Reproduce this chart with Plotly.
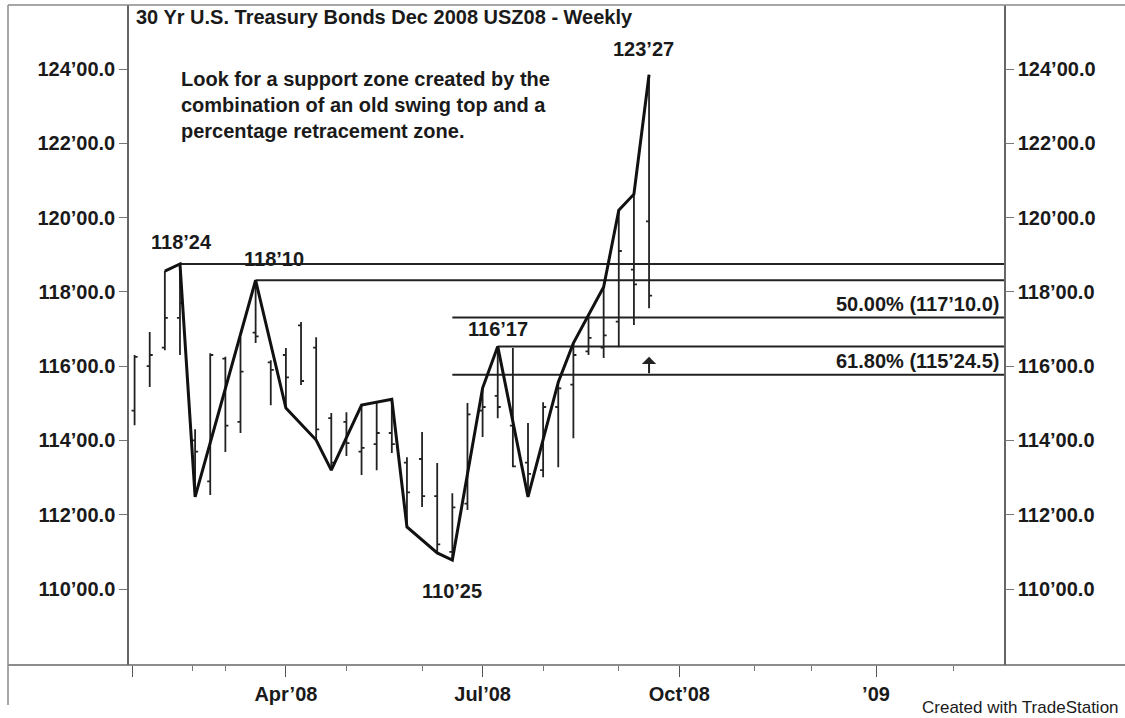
import plotly.graph_objects as go

# ---------------- data ----------------
dates = ["2008-01-25", "2008-02-01", "2008-02-08", "2008-02-15", "2008-02-22", "2008-02-29",
         "2008-03-07", "2008-03-14", "2008-03-21", "2008-03-28", "2008-04-04", "2008-04-11",
         "2008-04-18", "2008-04-25", "2008-05-02", "2008-05-09", "2008-05-16", "2008-05-23",
         "2008-05-30", "2008-06-06", "2008-06-13", "2008-06-20", "2008-06-27", "2008-07-04",
         "2008-07-11", "2008-07-18", "2008-07-25", "2008-08-01", "2008-08-08", "2008-08-15",
         "2008-08-22", "2008-08-29", "2008-09-05", "2008-09-12", "2008-09-19"]
highs = [116.30, 116.92, 118.56, 118.75, 114.30, 116.35, 116.25, 116.78, 118.3125, 116.16,
         116.49, 117.19, 116.78, 114.74, 114.76, 114.95, 115.01, 115.11, 113.55, 114.23,
         113.39, 112.58, 115.01, 115.41, 116.53125, 116.49, 114.47, 115.03, 115.57, 116.62,
         117.32, 118.13, 120.20, 120.63, 123.84375]
lows = [114.41, 115.44, 116.43, 116.30, 112.48, 112.53, 113.69, 114.20, 116.62, 114.95,
        114.87, 115.49, 114.01, 113.20, 113.58, 113.07, 113.20, 113.66, 111.67, 112.21,
        110.97, 110.78125, 112.13, 114.09, 114.60, 113.28, 112.48, 113.01, 113.28, 114.06,
        116.30, 116.22, 116.51, 117.11, 117.56]
opens = [114.80, 116.00, 116.50, 117.30, 114.00, 112.90, 116.20, 114.50, 116.90, 116.10,
         116.30, 117.10, 116.50, 114.60, 114.50, 113.70, 113.90, 114.20, 113.40, 113.50,
         112.50, 111.00, 112.30, 114.80, 115.20, 114.40, 113.40, 113.20, 114.90, 115.50,
         116.40, 116.50, 117.20, 118.60, 119.90]
closes = [116.25, 116.30, 117.30, 117.70, 113.70, 116.30, 114.40, 115.85, 116.80, 115.90,
          115.70, 115.60, 114.30, 113.40, 113.93, 113.80, 114.20, 113.90, 112.60, 112.50,
          111.20, 112.20, 114.70, 114.90, 114.90, 113.30, 113.10, 114.90, 115.40, 116.30,
          116.76, 116.83, 119.10, 118.20, 117.90]

swing_dates = ["2008-02-08", "2008-02-15", "2008-02-22", "2008-03-21", "2008-04-04", "2008-04-18",
               "2008-04-25", "2008-05-09", "2008-05-23", "2008-05-30", "2008-06-13", "2008-06-20",
               "2008-07-04", "2008-07-11", "2008-07-25", "2008-08-08", "2008-08-15", "2008-08-29",
               "2008-09-05", "2008-09-12", "2008-09-19"]
swing_prices = [118.56, 118.75, 112.48, 118.3125, 114.87, 114.01, 113.20, 114.95, 115.11, 111.67,
                110.97, 110.78125, 115.41, 116.53125, 112.48, 115.57, 116.62, 118.13, 120.20,
                120.63, 123.84375]

level_starts = ["2008-02-15", "2008-03-21", "2008-06-20", "2008-07-11", "2008-06-20"]
level_prices = [118.75, 118.3125, 117.3125, 116.53125, 115.765625]

ytick_vals = [110, 112, 114, 116, 118, 120, 122, 124]
ytick_text = ["110’00.0", "112’00.0", "114’00.0", "116’00.0", "118’00.0", "120’00.0", "122’00.0", "124’00.0"]
xtick_vals = ["2008-01-24", "2008-04-04", "2008-07-04", "2008-10-03", "2009-01-02"]
xtick_text = ["", "Apr’08", "Jul’08", "Oct’08", "’09"]
xminor_vals = ["2008-02-21", "2008-03-07", "2008-05-02", "2008-06-06", "2008-08-01",
               "2008-09-05", "2008-11-07", "2008-12-03", "2009-02-07"]

X_RANGE = ["2008-01-22 10:00", "2009-03-02 05:00"]
Y_RANGE = [107.954, 125.723]

FONT = "Liberation Sans, Arial, sans-serif"
INK = "#1a1a1a"
FS = 20

fig = go.Figure()

fig.add_trace(go.Ohlc(
    x=dates, open=opens, high=highs, low=lows, close=closes,
    increasing=dict(line=dict(color="#222", width=1.8)),
    decreasing=dict(line=dict(color="#222", width=1.8)),
    tickwidth=0.2, hoverinfo="skip", showlegend=False))

# horizontal support/resistance lines
for d, p in zip(level_starts, level_prices):
    fig.add_trace(go.Scatter(x=[d, X_RANGE[1]], y=[p, p], mode="lines",
                             line=dict(color="#222", width=2),
                             hoverinfo="skip", showlegend=False))

# swing line
fig.add_trace(go.Scatter(x=swing_dates, y=swing_prices, mode="lines",
                         line=dict(color="#111", width=3),
                         hoverinfo="skip", showlegend=False))

# dummy trace for right axis
fig.add_trace(go.Scatter(x=[dates[0]], y=[highs[0]], yaxis="y2", mode="markers",
                         marker=dict(opacity=0), hoverinfo="skip", showlegend=False))

W, H = 1125, 718
L, R, T, B = 129, 121, 5, 53
pw, ph = W - L - R, H - T - B


def px(x):
    return (x - L) / pw


def py(y):
    return (H - B - y) / ph


ann = []
# title
ann.append(dict(text="<b>30 Yr U.S. Treasury Bonds Dec 2008 USZ08 - Weekly</b>", x=px(134), y=py(17),
                xref="paper", yref="paper", xanchor="left", yanchor="middle", showarrow=False,
                font=dict(family=FONT, size=FS, color=INK)))
# comment
for i, line in enumerate(["Look for a support zone created by the",
                          "combination of an old swing top and a",
                          "percentage retracement zone."]):
    ann.append(dict(text="<b>" + line + "</b>", x=px(179), y=py(79 + 26 * i),
                    xref="paper", yref="paper", xanchor="left", yanchor="middle", showarrow=False,
                    font=dict(family=FONT, size=FS, color=INK)))
# price labels
labels = [("118’24", "2008-02-15", 118.75, 2, 22),
          ("118’10", "2008-03-21", 118.3125, 18, 21),
          ("116’17", "2008-07-11", 116.53125, 0, 17),
          ("110’25", "2008-06-20", 110.78125, 0, -31),
          ("123’27", "2008-09-19", 123.84375, -6, 26)]
for t, d, p, xs, ys in labels:
    ann.append(dict(text="<b>" + t + "</b>", x=d, y=p, xref="x", yref="y", xshift=xs, yshift=ys,
                    showarrow=False, xanchor="center", yanchor="middle",
                    font=dict(family=FONT, size=FS, color=INK)))
for t, p, ys in [("50.00% (117’10.0)", 117.3125, 13), ("61.80% (115’24.5)", 115.765625, 14)]:
    ann.append(dict(text="<b>" + t + "</b>", x=1, y=p, xref="paper", yref="y", xshift=-3, yshift=ys,
                    showarrow=False, xanchor="right", yanchor="middle",
                    font=dict(family=FONT, size=FS, color=INK)))
# arrow
ann.append(dict(text="", x="2008-09-19", y=116.25, ax="2008-09-19", ay=115.765625,
                xref="x", yref="y", axref="x", ayref="y", showarrow=True,
                arrowhead=1, arrowsize=1.2, arrowwidth=2, arrowcolor="#222"))
# footer
ann.append(dict(text="Created with TradeStation", x=px(1121), y=py(707), xref="paper", yref="paper",
                xanchor="right", yanchor="middle", showarrow=False,
                font=dict(family=FONT, size=17, color=INK)))

frame_col = "#8a8a8a"
shapes = [
    dict(type="line", xref="paper", yref="paper", x0=px(8), x1=px(1125), y0=py(665), y1=py(665),
         line=dict(color="#666", width=1.5)),
    dict(type="line", xref="paper", yref="paper", x0=px(8), x1=px(1125), y0=py(5), y1=py(5),
         line=dict(color=frame_col, width=1.5)),
    dict(type="line", xref="paper", yref="paper", x0=px(8), x1=px(8), y0=py(5), y1=py(705),
         line=dict(color=frame_col, width=1.5)),
]

tickfont = dict(family=FONT, size=FS, color=INK, weight="bold")

fig.update_layout(
    width=W, height=H, margin=dict(l=L, r=R, t=T, b=B),
    paper_bgcolor="white", plot_bgcolor="white",
    showlegend=False, annotations=ann, shapes=shapes,
    xaxis=dict(type="date", range=X_RANGE, rangeslider=dict(visible=False),
               showgrid=False, zeroline=False, showline=False,
               tickmode="array", tickvals=xtick_vals, ticktext=xtick_text,
               ticks="outside", ticklen=11, tickwidth=1.2, tickcolor="#555",
               tickfont=tickfont,
               minor=dict(tickmode="array", tickvals=xminor_vals, ticks="outside",
                          ticklen=5, tickwidth=1.2, tickcolor="#777", showgrid=False)),
    yaxis=dict(range=Y_RANGE, showgrid=False, zeroline=False,
               showline=True, linecolor="#666", linewidth=1.5,
               tickmode="array", tickvals=ytick_vals, ticktext=ytick_text,
               ticks="outside", ticklen=8, tickwidth=1.2, tickcolor="#777",
               tickfont=tickfont),
    yaxis2=dict(range=Y_RANGE, overlaying="y", side="right", showgrid=False, zeroline=False,
                showline=True, linecolor="#666", linewidth=1.5,
                tickmode="array", tickvals=ytick_vals, ticktext=ytick_text,
                ticks="outside", ticklen=8, tickwidth=1.2, tickcolor="#777",
                tickfont=tickfont),
)

fig.write_html("out.html", config={"displayModeBar": False},
               post_script="document.body.style.margin='0px';")
